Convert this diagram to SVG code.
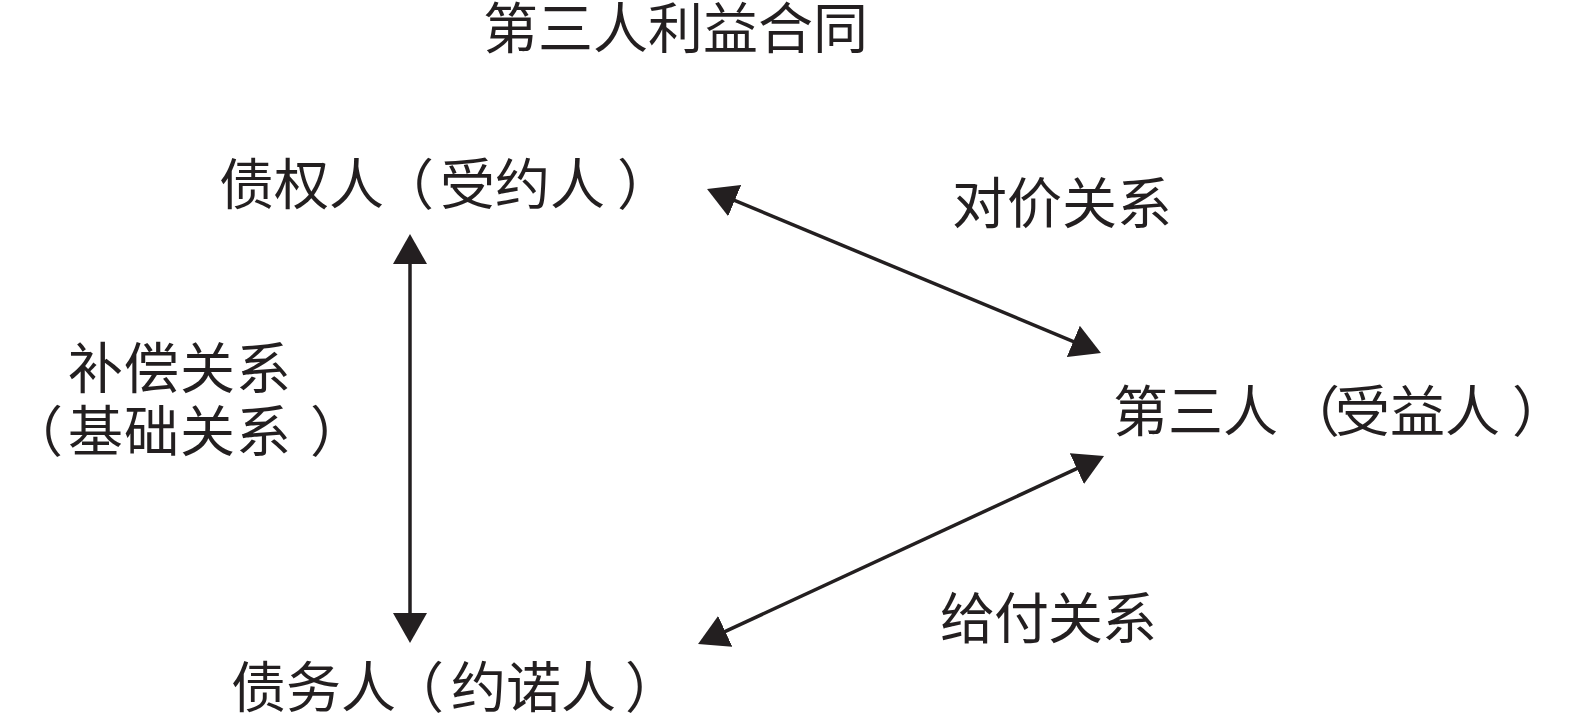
<svg xmlns="http://www.w3.org/2000/svg" width="1575" height="727" viewBox="0 0 1575 727">
<style>
text{font-family:"Liberation Serif","Noto Sans CJK SC",serif;font-size:55px;fill:#231f20}
.c{stroke:#231f20;stroke-width:3.5;fill:none}
</style>
<defs>
<marker id="ah" markerUnits="userSpaceOnUse" markerWidth="30" markerHeight="34" viewBox="0 0 30 34" refX="10" refY="17" orient="auto-start-reverse">
<path d="M0,0 L30,17 L0,34 z" fill="#231f20"/>
</marker>
</defs>
<rect width="1575" height="727" fill="#fff"/>
<g id="title"><text x="483 538 593 648 703 758 813" y="48">第三人利益合同</text></g>
<g id="creditor"><text x="219 274 329 379 440 495 550 617" y="204">债权人（受约人）</text></g>
<g id="third"><text x="1113 1168 1223 1285 1335 1390 1445 1512" y="431">第三人（受益人）</text></g>
<g id="debtor"><text x="231 286 341 389 451 506 561 625" y="707">债务人（约诺人）</text></g>
<g id="connectors">
<line class="c" x1="410" y1="254" x2="410" y2="623" marker-start="url(#ah)" marker-end="url(#ah)"/>
<line class="c" x1="725.5" y1="196.7" x2="1082.5" y2="345.3" marker-start="url(#ah)" marker-end="url(#ah)"/>
<line class="c" x1="716.2" y1="635.6" x2="1085.9" y2="464.4" marker-start="url(#ah)" marker-end="url(#ah)"/>
</g>
<g id="labels">
<text x="952 1007 1062 1117" y="223">对价关系</text>
<text x="68 124 180 236" y="388">补偿关系</text>
<text x="8 68 124 180 236 310" y="451">（基础关系）</text>
<text x="940 994 1048 1102" y="638">给付关系</text>
</g>
</svg>
